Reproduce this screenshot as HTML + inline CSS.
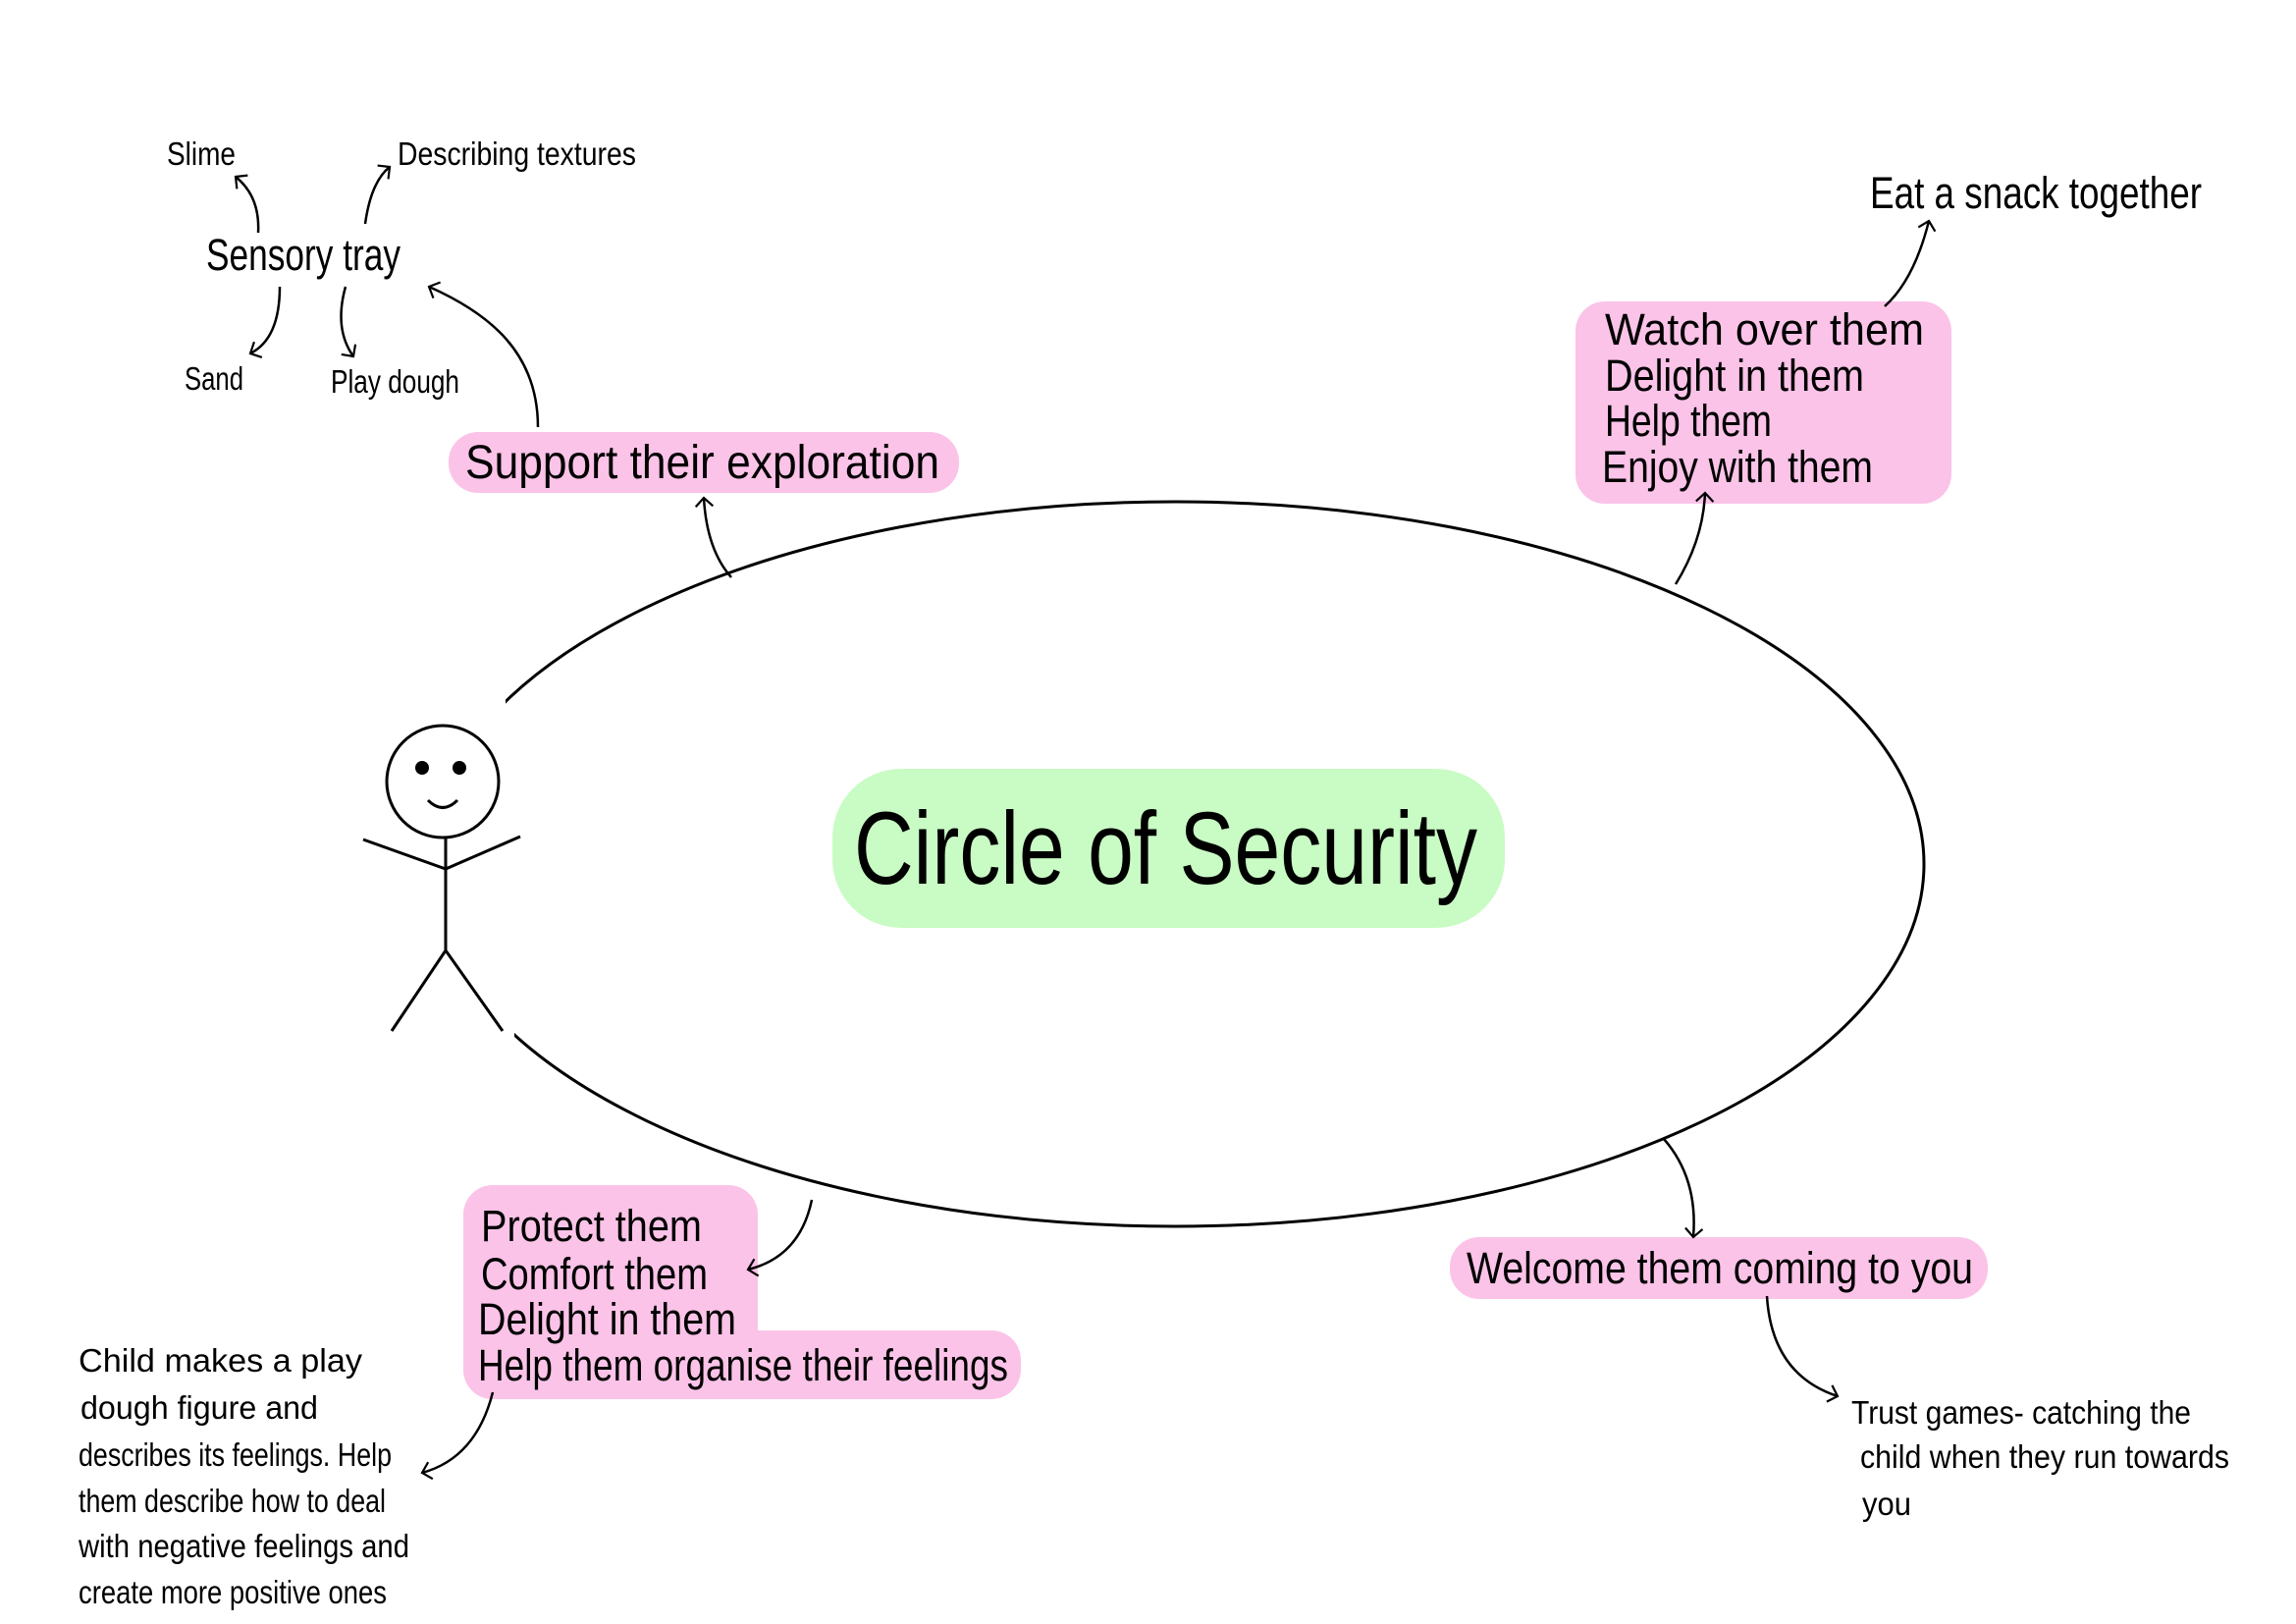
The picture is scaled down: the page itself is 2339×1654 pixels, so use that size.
<!DOCTYPE html>
<html><head><meta charset="utf-8"><style>
html,body{margin:0;padding:0;background:#fff}
svg{display:block}
text{font-family:"Liberation Sans",sans-serif;fill:#000}
</style></head><body>
<svg width="2339" height="1654" viewBox="0 0 2339 1654" xmlns="http://www.w3.org/2000/svg">
<defs>
<marker id="a" viewBox="0 0 20 20" refX="10" refY="10" markerWidth="22" markerHeight="22" markerUnits="userSpaceOnUse" orient="auto">
<path d="M2,2 L10,10 L2,18" fill="none" stroke="#000" stroke-width="2"/>
</marker>
</defs>
<rect width="2339" height="1654" fill="#fff"/>
<ellipse cx="1197" cy="880" rx="763" ry="369" fill="none" stroke="#000" stroke-width="3"/>
<rect x="400" y="712" width="115" height="364" fill="#fff"/>
<rect x="400" y="1040" width="124" height="36" fill="#fff"/>
<circle cx="451" cy="796" r="57" fill="none" stroke="#000" stroke-width="3"/>
<circle cx="430" cy="782" r="7"/><circle cx="468" cy="782" r="7"/>
<path d="M436,815 Q451,830 466,815" fill="none" stroke="#000" stroke-width="3"/>
<path d="M454,853 L454,968 M370,855 L454,885 L530,852 M454,968 L399,1050 M454,968 L512,1050" fill="none" stroke="#000" stroke-width="3"/>
<rect x="848" y="783" width="685" height="162" rx="70" fill="#c9fbc4"/>
<text x="870" y="900" font-size="105" textLength="635" lengthAdjust="spacingAndGlyphs">Circle of Security</text>
<rect x="457" y="440" width="520" height="62" rx="30" fill="#fbc3e8"/>
<text x="474" y="487" font-size="48" textLength="483" lengthAdjust="spacingAndGlyphs">Support their exploration</text>
<rect x="1605" y="307" width="383" height="206" rx="30" fill="#fbc3e8"/>
<text x="1635" y="351" font-size="45" textLength="325" lengthAdjust="spacingAndGlyphs">Watch over them</text>
<text x="1635" y="398" font-size="45" textLength="264" lengthAdjust="spacingAndGlyphs">Delight in them</text>
<text x="1635" y="444" font-size="45" textLength="170" lengthAdjust="spacingAndGlyphs">Help them</text>
<text x="1632" y="491" font-size="45" textLength="276" lengthAdjust="spacingAndGlyphs">Enjoy with them</text>
<rect x="472" y="1207" width="300" height="218" rx="30" fill="#fbc3e8"/>
<rect x="472" y="1355" width="568" height="70" rx="30" fill="#fbc3e8"/>
<text x="490" y="1264" font-size="45" textLength="225" lengthAdjust="spacingAndGlyphs">Protect them</text>
<text x="490" y="1313" font-size="45" textLength="231" lengthAdjust="spacingAndGlyphs">Comfort them</text>
<text x="487" y="1359" font-size="45" textLength="263" lengthAdjust="spacingAndGlyphs">Delight in them</text>
<text x="487" y="1406" font-size="45" textLength="540" lengthAdjust="spacingAndGlyphs">Help them organise their feelings</text>
<rect x="1477" y="1260" width="548" height="63" rx="30" fill="#fbc3e8"/>
<text x="1494" y="1307" font-size="45" textLength="516" lengthAdjust="spacingAndGlyphs">Welcome them coming to you</text>
<text x="170" y="168" font-size="33" textLength="70" lengthAdjust="spacingAndGlyphs">Slime</text>
<text x="405" y="168" font-size="33" textLength="243" lengthAdjust="spacingAndGlyphs">Describing textures</text>
<text x="210" y="275" font-size="45" textLength="198" lengthAdjust="spacingAndGlyphs">Sensory tray</text>
<text x="188" y="397" font-size="33" textLength="60" lengthAdjust="spacingAndGlyphs">Sand</text>
<text x="337" y="400" font-size="33" textLength="131" lengthAdjust="spacingAndGlyphs">Play dough</text>
<text x="1905" y="212" font-size="45" textLength="338" lengthAdjust="spacingAndGlyphs">Eat a snack together</text>
<g font-size="33">
<text x="80" y="1397" textLength="289" lengthAdjust="spacingAndGlyphs">Child makes a play</text>
<text x="82" y="1445" textLength="242" lengthAdjust="spacingAndGlyphs">dough figure and</text>
<text x="80" y="1493" textLength="319" lengthAdjust="spacingAndGlyphs">describes its feelings. Help</text>
<text x="80" y="1540" textLength="313" lengthAdjust="spacingAndGlyphs">them describe how to deal</text>
<text x="80" y="1586" textLength="337" lengthAdjust="spacingAndGlyphs">with negative feelings and</text>
<text x="80" y="1633" textLength="314" lengthAdjust="spacingAndGlyphs">create more positive ones</text>
<text x="1886" y="1450" textLength="346" lengthAdjust="spacingAndGlyphs">Trust games- catching the</text>
<text x="1895" y="1495" textLength="376" lengthAdjust="spacingAndGlyphs">child when they run towards</text>
<text x="1897" y="1543" textLength="50" lengthAdjust="spacingAndGlyphs">you</text>
</g>
<g fill="none" stroke="#000" stroke-width="2.5" marker-end="url(#a)">
<path d="M745,588 Q720,560 717,507"/>
<path d="M548,435 C548,360 500,320 437,292"/>
<path d="M263,237 Q265,200 240,180"/>
<path d="M372,228 Q378,185 397,170"/>
<path d="M285,292 Q285,345 255,360"/>
<path d="M352,292 Q340,335 360,363"/>
<path d="M1707,595 Q1735,550 1737,502"/>
<path d="M1920,312 Q1950,285 1965,225"/>
<path d="M1695,1160 Q1730,1200 1725,1260"/>
<path d="M827,1222 Q815,1280 762,1293"/>
<path d="M502,1418 Q485,1485 430,1500"/>
<path d="M1800,1320 Q1805,1400 1872,1422"/>
</g>
</svg>
</body></html>
